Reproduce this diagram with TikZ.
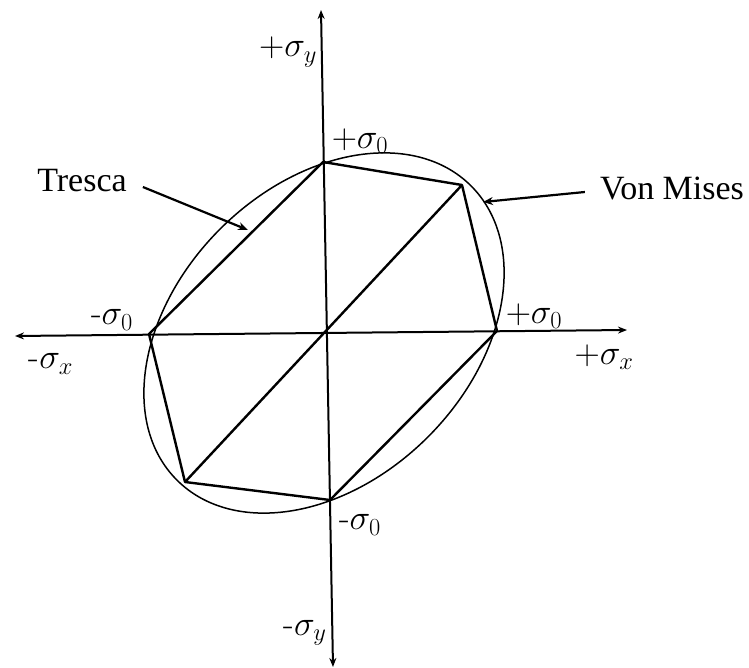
\RequirePackage{fix-cm}
\documentclass[tikz,border=0pt]{standalone}
\usepackage{fontspec}
\newfontfamily\tnr{Liberation Serif}
\usetikzlibrary{arrows.meta}
\begin{document}
\begin{tikzpicture}[x=1pt,y=-1pt,
  axis/.style={line width=2pt,{Stealth[length=9pt,width=7pt]}-{Stealth[length=9pt,width=7pt]}},
  edge/.style={line width=2.4pt,line join=round},
  curve/.style={line width=1.5pt},
  pointer/.style={line width=2.2pt,-{Stealth[length=10pt,width=8pt]}},
  mlab/.style={inner sep=0pt,font=\fontsize{35}{42}\selectfont},
  wlab/.style={inner sep=0pt,font=\fontsize{34}{40}\selectfont\tnr}]
\useasboundingbox (0,0) rectangle (749,668);
% axis ends and vertices
\coordinate (xl) at (15,336);
\coordinate (xr) at (627,330);
\coordinate (yt) at (321,10);
\coordinate (yb) at (333,667);
\coordinate (O) at (324,333);
\coordinate (T) at (323,162);
\coordinate (UR) at (462,185);
\coordinate (R) at (497,331);
\coordinate (B) at (330,500);
\coordinate (LL) at (185,482);
\coordinate (L) at (149,334);
% von Mises ellipse
\draw[curve,rotate around={45:(O)}] (O) ellipse [x radius=208, y radius=147];
% axes
\draw[axis] (xl) -- (xr);
\draw[axis] (yt) -- (yb);
% Tresca hexagon
\draw[edge] (T) -- (UR) -- (R) -- (B) -- (LL) -- (L) -- cycle;
\draw[edge] (UR) -- (LL);
% labels
\node[mlab] (ly) at (288,52) {$+\sigma_y$};
\node[mlab] (lt) at (360,141) {$+\sigma_0$};
\node[mlab] (ll) at (112,320) {-$\sigma_0$};
\node[mlab] (lx) at (51,364) {-$\sigma_x$};
\node[mlab] (lr) at (534,316) {$+\sigma_0$};
\node[mlab] (lxr) at (604,357) {$+\sigma_x$};
\node[mlab] (lb) at (360,525) {-$\sigma_0$};
\node[mlab] (lyb) at (305,633) {-$\sigma_y$};
\node[wlab] (tr) at (82,181) {Tresca};
\node[wlab] (vm) at (672,189) {Von Mises};
\coordinate (trtip) at (248,230);
\coordinate (vmtip) at (483,202);
\draw[pointer] (tr.east) ++(16,6) coordinate (trs) -- (trtip);
\draw[pointer] (vm.west) ++(-15,3) coordinate (vms) -- (vmtip);
\end{tikzpicture}
\end{document}
